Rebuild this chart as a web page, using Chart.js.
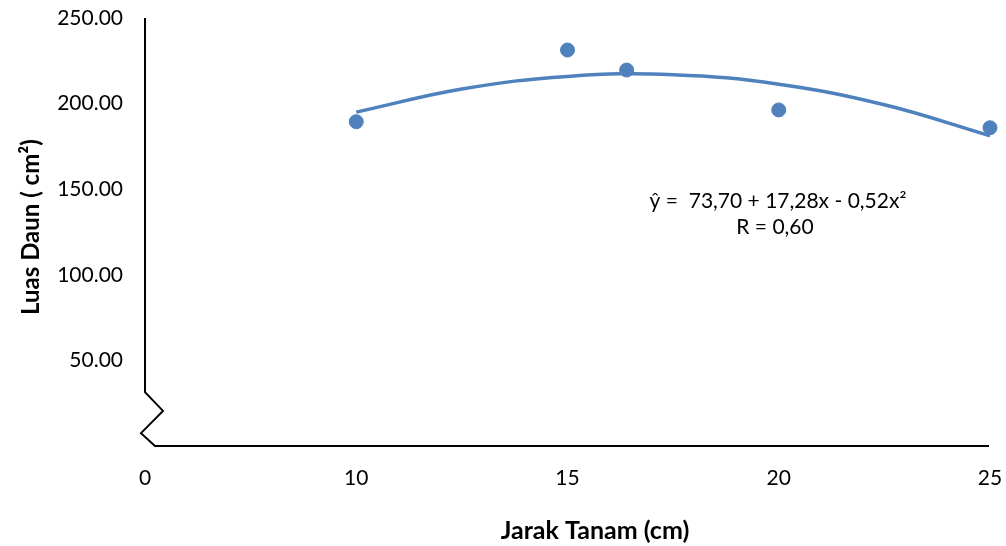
<!DOCTYPE html>
<html>
<head>
<meta charset="utf-8">
<script src="https://cdn.jsdelivr.net/npm/chart.js@4"></script>
<style>
    body { margin: 0; background: #fff; }
    #wrap { width: 1006px; height: 546px; }
</style>
</head>
<body>
<div id="wrap"><canvas id="jarakChart" width="1006" height="546"></canvas></div>
<script>
// observed points (jarak tanam in cm, luas daun in cm2)
const jarakTanam = [10, 15, 16.4, 20, 25];
const luasDaun = [189.4, 231.3, 219.6, 196.3, 185.9];

// trend line
const trendX = [10, 12.5, 15, 17.5, 20, 22.5, 25];
const trendY = [195.0, 208.5, 215.9, 216.9, 211.3, 199.3, 181.2];

// x ticks: the axis is broken, so the first tick (5) is printed as 0
const xTicks = [5, 10, 15, 20, 25];
const xTickLabels = ['0', '10', '15', '20', '25'];
const yTicks = [50, 100, 150, 200, 250];

const blue = '#4F81BD';
const fontName = 'Lato, "Open Sans", sans-serif';

// draws the axis lines with the break zigzag, the axis titles and the equation
const axisPlugin = {
    id: 'axisPlugin',
    afterDraw(chart) {
        const ctx = chart.ctx;
        const area = chart.chartArea;
        const xScale = chart.scales.x;
        const yScale = chart.scales.y;
        const x0 = xScale.getPixelForValue(5);
        ctx.save();
        ctx.strokeStyle = '#000';
        ctx.lineWidth = 2;
        ctx.beginPath();
        ctx.moveTo(x0, yScale.getPixelForValue(250));
        ctx.lineTo(x0, yScale.getPixelForValue(31.5));
        ctx.lineTo(x0 + 18, yScale.getPixelForValue(20.5));
        ctx.lineTo(x0 - 4, yScale.getPixelForValue(7.5));
        ctx.lineTo(x0 + 10, yScale.getPixelForValue(0));
        ctx.lineTo(xScale.getPixelForValue(25) - 1, yScale.getPixelForValue(0));
        ctx.stroke();

        ctx.fillStyle = '#000';
        ctx.textAlign = 'center';
        ctx.textBaseline = 'middle';
        ctx.font = 'bold 25px ' + fontName;
        ctx.fillText('Jarak Tanam (cm)', 595, 531);

        ctx.font = 'bold 24px ' + fontName;
        ctx.save();
        ctx.translate(31, 227);
        ctx.rotate(-Math.PI / 2);
        ctx.fillText('Luas Daun ( cm\u00B2)', 0, 0);
        ctx.restore();

        ctx.font = '21px ' + fontName;
        ctx.fillText('\u0177 =  73,70 + 17,28x - 0,52x\u00B2', 778, 201);
        ctx.fillText('R = 0,60', 775, 227);
        ctx.restore();
    }
};

const scatterData = jarakTanam.map((x, i) => ({ x: x, y: luasDaun[i] }));
const trendData = trendX.map((x, i) => ({ x: x, y: trendY[i] }));

const config = {
    type: 'scatter',
    data: {
        datasets: [
            {
                label: 'Trend',
                type: 'line',
                data: trendData,
                borderColor: blue,
                borderWidth: 3.5,
                pointRadius: 0,
                tension: 0.4,
                fill: false,
                clip: false,
                order: 2
            },
            {
                label: 'Luas Daun',
                data: scatterData,
                backgroundColor: blue,
                borderColor: blue,
                pointRadius: 7,
                pointHoverRadius: 7,
                clip: false,
                order: 1
            }
        ]
    },
    options: {
        responsive: false,
        animation: false,
        layout: { padding: { top: 18, right: 16, left: 0, bottom: 0 } },
        plugins: {
            legend: { display: false },
            tooltip: { enabled: false }
        },
        scales: {
            x: {
                type: 'linear',
                min: 5,
                max: 25,
                afterFit(scale) {
                    scale.height = 100;
                    scale.paddingLeft = 0;
                    scale.paddingRight = 0;
                },
                afterBuildTicks(scale) { scale.ticks = xTicks.map(v => ({ value: v })); },
                grid: { display: false, drawTicks: false },
                border: { display: false },
                ticks: {
                    padding: 20,
                    color: '#000',
                    font: { family: fontName, size: 21 },
                    callback: function (value) {
                        const idx = xTicks.indexOf(value);
                        return idx >= 0 ? xTickLabels[idx] : '';
                    }
                }
            },
            y: {
                min: 0,
                max: 250,
                afterFit(scale) {
                    scale.width = 145;
                    scale.paddingTop = 0;
                    scale.paddingBottom = 0;
                },
                afterBuildTicks(scale) { scale.ticks = yTicks.map(v => ({ value: v })); },
                grid: { display: false, drawTicks: false },
                border: { display: false },
                ticks: {
                    padding: 22,
                    color: '#000',
                    font: { family: fontName, size: 21 },
                    callback: value => value.toFixed(2)
                }
            }
        }
    },
    plugins: [axisPlugin]
};

const getChart = document.getElementById('jarakChart').getContext('2d');
const myChart = new Chart(getChart, config);
</script>
</body>
</html>
